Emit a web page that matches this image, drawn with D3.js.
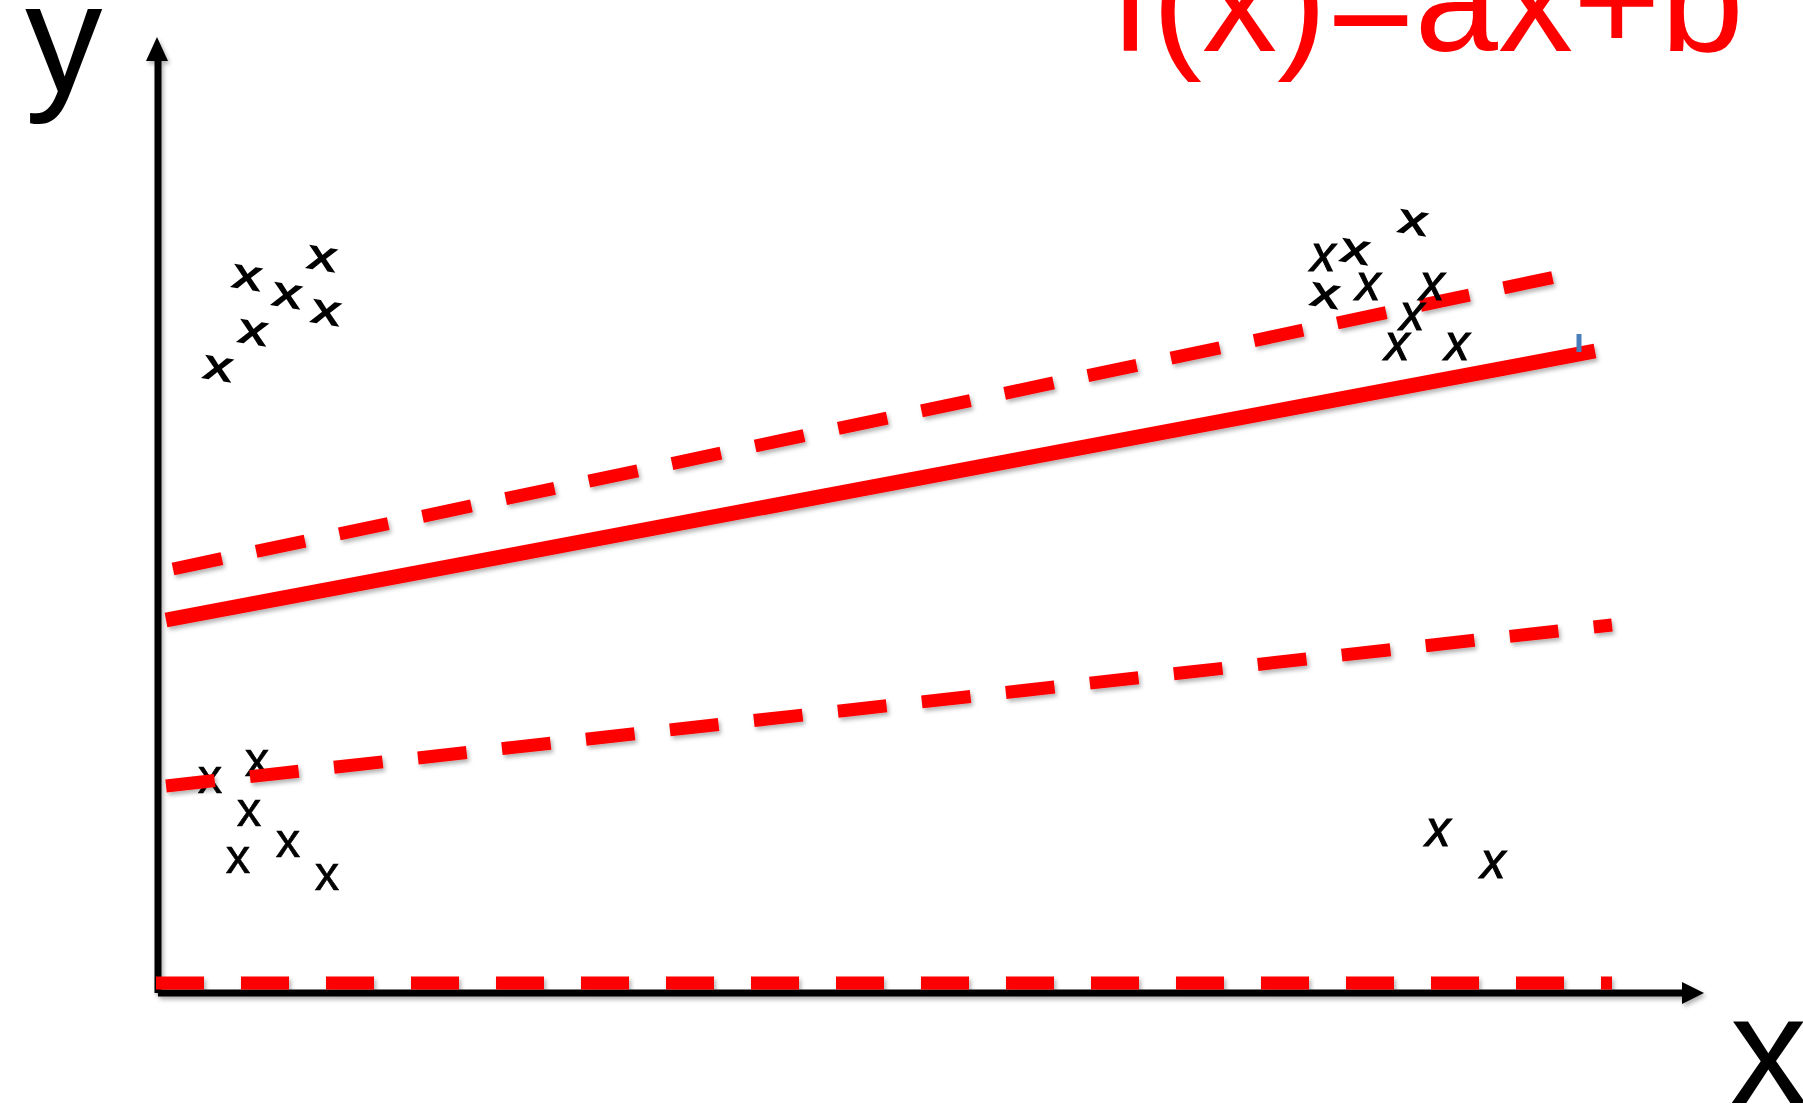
<!DOCTYPE html>
<meta charset="utf-8">
<script src="https://d3js.org/d3.v7.min.js"></script>
<style>
  body { margin: 0; background: #fff; }
  svg { display: block; }
</style>
<div id="my_dataviz"></div>

<script>
    // points, in chart units (x 0..160, y 0..100)
    const topLeftPts = [[8.9, 71.5], [16.4, 73.4], [12.9, 69.7], [16.8, 68.0], [9.5, 66.0], [6.0, 62.4]];
    const topRightTilted = [[125.5, 77.0], [119.7, 74.1], [116.7, 69.7]];
    const topRightItalic = [[116.5, 73.5], [121.0, 70.6], [127.4, 70.6], [125.4, 67.6], [123.9, 64.6], [129.9, 64.6]];
    const bottomRightPts = [[128.0, 16.0], [133.5, 12.8]];
    const bottomLeftPts = [[5.2, 21.3], [9.9, 23.0], [9.1, 18.0], [8.0, 13.3], [13.0, 14.9], [16.9, 11.6]];

    // lines
    const fitLine = [[0.8, 37.3], [143.7, 64.2]];
    const upperLine = [[1.5, 42.4], [139.7, 71.6]];
    const lowerLine = [[0.8, 20.7], [145.4, 36.8]];
    const flatLine = [[-0.2, 1.0], [145.4, 1.0]];
    const cursorMark = [[142.1, 65.9], [142.1, 64.1]];

    // axis ends
    const xAxisEnd = 154.6;
    const yAxisEnd = 95.6;

    const labels = { x: "x", y: "y", formula: "f(x)=ax+b" };

    const width = 1803, height = 1109;
    const font = "'Liberation Sans', Arial, Helvetica, sans-serif";

    const svg = d3.select("#my_dataviz")
        .append("svg")
        .attr("width", width)
        .attr("height", height);

    const x = d3.scaleLinear().domain([0, 160]).range([158, 1758]);
    const y = d3.scaleLinear().domain([0, 100]).range([993, -7]);

    // soft shadow like the slide
    const defs = svg.append("defs");
    const f = defs.append("filter").attr("id", "shadow")
        .attr("x", "-5%").attr("y", "-50%").attr("width", "110%").attr("height", "200%");
    f.append("feDropShadow")
        .attr("dx", 2).attr("dy", 3).attr("stdDeviation", 2)
        .attr("flood-color", "#000").attr("flood-opacity", 0.3);

    const line = d3.line().x(d => x(d[0])).y(d => y(d[1]));

    // x markers helper
    function marks(data, opts) {
        svg.append("g")
            .selectAll("text")
            .data(data)
            .join("text")
            .attr("transform", d => `translate(${x(d[0])},${y(d[1])}) rotate(${opts.rot || 0}) scale(${opts.sx || 1},1)`)
            .attr("y", opts.size * 0.26)
            .attr("text-anchor", "middle")
            .style("font-family", font)
            .style("font-size", opts.size + "px")
            .style("font-style", opts.italic ? "italic" : "normal")
            .attr("fill", "#000")
            .attr("stroke", "#000")
            .attr("stroke-width", opts.bold || 0)
            .text("x");
    }

    marks(bottomLeftPts, { size: 49, bold: 0.6 });

    // axes
    const axes = svg.append("g").attr("filter", "url(#shadow)");
    axes.append("path")
        .attr("d", line([[0, 0], [xAxisEnd - 2, 0]]))
        .attr("stroke", "#000").attr("stroke-width", 7).attr("fill", "none");
    axes.append("path")
        .attr("d", line([[0, 0], [0, yAxisEnd - 2]]))
        .attr("stroke", "#000").attr("stroke-width", 7).attr("fill", "none");
    axes.append("path")
        .attr("d", `M${x(xAxisEnd)},${y(0)} L${x(xAxisEnd) - 22},${y(0) - 11} L${x(xAxisEnd) - 22},${y(0) + 11} Z`)
        .attr("fill", "#000");
    axes.append("path")
        .attr("d", `M${x(0) - 1},${y(yAxisEnd)} L${x(0) - 12},${y(yAxisEnd) + 24} L${x(0) + 10},${y(yAxisEnd) + 24} Z`)
        .attr("fill", "#000");

    // red lines
    const red = svg.append("g").attr("filter", "url(#shadow)").attr("fill", "none").attr("stroke", "#ff0000");
    red.append("path").attr("d", line(flatLine)).attr("stroke-width", 13).attr("stroke-dasharray", "48 37");
    red.append("path").attr("d", line(lowerLine)).attr("stroke-width", 13).attr("stroke-dasharray", "49 35.5");
    red.append("path").attr("d", line(upperLine)).attr("stroke-width", 13).attr("stroke-dasharray", "50 35");
    red.append("path").attr("d", line(fitLine)).attr("stroke-width", 15);

    svg.append("path")
        .attr("d", line(cursorMark))
        .attr("stroke", "#4a7ebb").attr("stroke-width", 5);

    marks(topLeftPts, { size: 42, rot: 9, sx: 1.35, bold: 1.4 });
    marks(topRightTilted, { size: 42, rot: 9, sx: 1.35, bold: 1.4 });
    marks(topRightItalic, { size: 50, italic: true, bold: 1 });
    marks(bottomRightPts, { size: 50, italic: true, bold: 1 });

    // labels
    svg.append("text")
        .attr("x", 25).attr("y", 92)
        .style("font-family", font).style("font-size", "155px")
        .attr("fill", "#000")
        .text(labels.y);
    svg.append("text")
        .attr("x", 1730).attr("y", 1103)
        .style("font-family", font).style("font-size", "154px")
        .attr("fill", "#000")
        .text(labels.x);
    svg.append("text")
        .attr("x", 1744).attr("y", 51)
        .attr("text-anchor", "end")
        .style("font-family", font).style("font-size", "150px")
        .attr("fill", "#ff0000")
        .text(labels.formula);
</script>
